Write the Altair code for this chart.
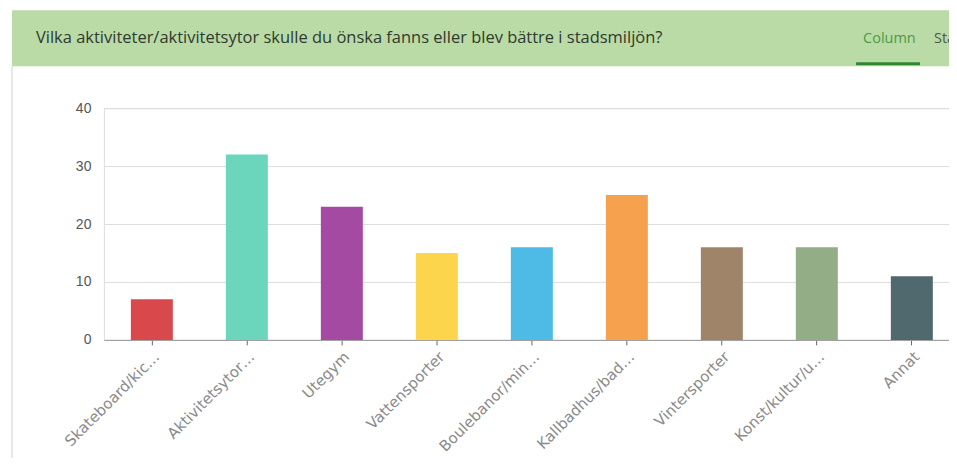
import altair as alt
import pandas as pd

categories = ["Skateboard/kic…", "Aktivitetsytor…", "Utegym", "Vattensporter",
              "Boulebanor/min…", "Kallbadhus/bad…", "Vintersporter",
              "Konst/kultur/u…", "Annat"]
values = [7, 32, 23, 15, 16, 25, 16, 16, 11]
colors = ["#d9494c", "#6cd6bd", "#a44aa3", "#fdd54c", "#4dbbe5",
          "#f6a14e", "#a0846a", "#93ad86", "#50696f"]
y_ticks = [0, 10, 20, 30, 40]
title_text = "Vilka aktiviteter/aktivitetsytor skulle du önska fanns eller blev bättre i stadsmiljön?"

df = pd.DataFrame({"cat": categories, "val": values, "col": colors})
one = pd.DataFrame({"a": [0]})

header = alt.Chart(one).mark_rect(color="#badaa6").encode(
    x=alt.value(-92), x2=alt.value(853), y=alt.value(-98), y2=alt.value(-42))
border = alt.Chart(one).mark_rule(color="#cfcfcf", strokeWidth=1).encode(
    x=alt.value(-92), y=alt.value(-42), y2=alt.value(360))
title = alt.Chart(one).mark_text(text=title_text, align="left", baseline="middle",
                                 font="Open Sans", fontSize=16.5, color="#2e3b2e").encode(
    x=alt.value(-68), y=alt.value(-70))
tab1 = alt.Chart(one).mark_text(text="Column", align="left", baseline="middle",
                                font="Open Sans", fontSize=14.5, color="#4a9a4a").encode(
    x=alt.value(760), y=alt.value(-69))
tab2 = alt.Chart(one).mark_text(text="Stacked", align="left", baseline="middle",
                                font="Open Sans", fontSize=14.5, color="#555555").encode(
    x=alt.value(831), y=alt.value(-69))
underline = alt.Chart(one).mark_rect(color="#2f8a2f").encode(
    x=alt.value(753), x2=alt.value(817), y=alt.value(-46), y2=alt.value(-43))

bars = alt.Chart(df).mark_bar().encode(
    x=alt.X("cat:N", sort=categories,
            scale=alt.Scale(paddingInner=0.558, paddingOuter=0.227, align=0.625),
            axis=alt.Axis(title=None, labelAngle=-45, labelFont="DejaVu Sans",
                          labelFontSize=15, labelColor="#8a8a8a",
                          domainColor="#999999", tickColor="#666666", tickSize=5,
                          labelPadding=4, grid=False)),
    y=alt.Y("val:Q", scale=alt.Scale(domain=[0, 40]),
            axis=alt.Axis(title=None, values=y_ticks, labelFont="Liberation Sans",
                          labelFontSize=14, labelColor="#555555", domain=False,
                          ticks=False, labelPadding=13, gridColor="#dddddd")),
    color=alt.Color("col:N", scale=None, legend=None),
)

chart = alt.layer(header, border, title, tab1, tab2, underline, bars).properties(
    width=846, height=232,
    autosize=alt.AutoSizeParams(type="none"),
    padding={"left": 96, "top": 100, "right": 0, "bottom": 118},
).configure_view(strokeWidth=0, stroke="transparent").configure(background="white")

chart.save("out.html", embed_options={"renderer": "svg", "actions": False})
